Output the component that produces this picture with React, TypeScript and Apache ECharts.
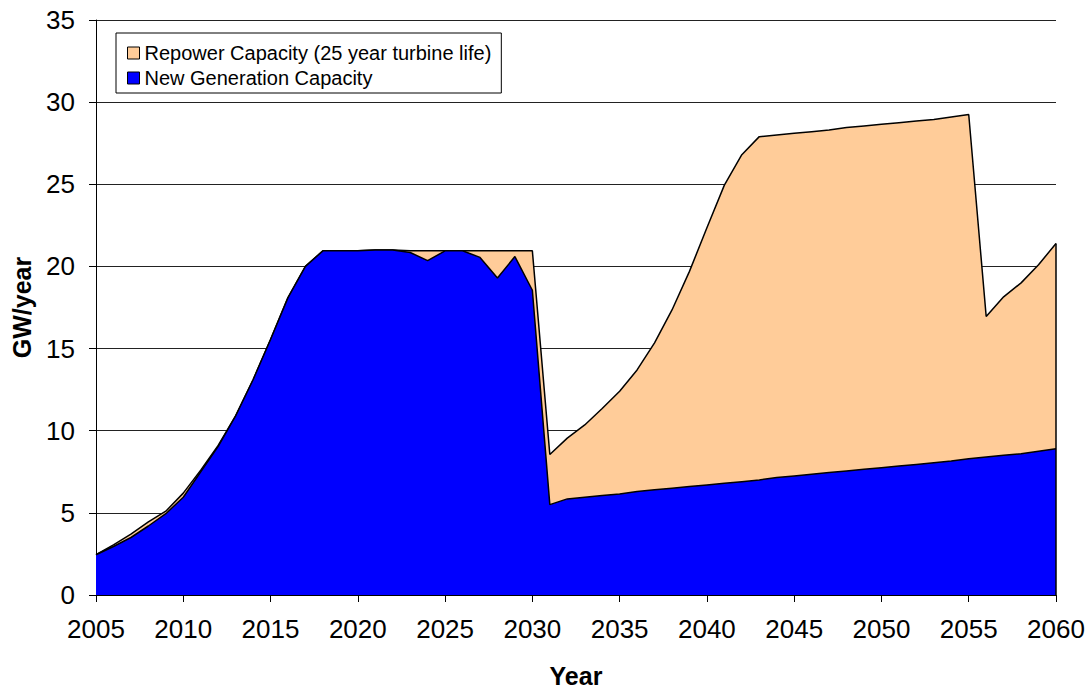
import React, { useEffect, useRef } from "react";
import * as echarts from "echarts";

const years = [
  2005, 2006, 2007, 2008, 2009, 2010, 2011, 2012, 2013, 2014,
  2015, 2016, 2017, 2018, 2019, 2020, 2021, 2022, 2023, 2024,
  2025, 2026, 2027, 2028, 2029, 2030, 2031, 2032, 2033, 2034,
  2035, 2036, 2037, 2038, 2039, 2040, 2041, 2042, 2043, 2044,
  2045, 2046, 2047, 2048, 2049, 2050, 2051, 2052, 2053, 2054,
  2055, 2056, 2057, 2058, 2059, 2060,
];

// New generation capacity (GW/year)
const newGeneration = [
  2.45, 2.95, 3.5, 4.2, 4.95, 5.95, 7.5, 9.05, 10.9, 13.1,
  15.55, 18.1, 20.0, 20.95, 20.95, 20.95, 21.0, 21.0, 20.85, 20.35,
  20.95, 20.95, 20.55, 19.3, 20.6, 18.55, 5.5, 5.85, 5.95, 6.05,
  6.15, 6.3, 6.4, 6.5, 6.6, 6.7, 6.8, 6.9, 7.0, 7.15,
  7.25, 7.35, 7.45, 7.55, 7.65, 7.75, 7.85, 7.95, 8.05, 8.15,
  8.3, 8.4, 8.5, 8.6, 8.75, 8.9,
];

// Total (new generation + repower) capacity (GW/year), top of the peach area
const totalWithRepower = [
  2.45, 3.05, 3.7, 4.45, 5.1, 6.2, 7.6, 9.1, 10.9, 13.1,
  15.55, 18.1, 20.0, 20.95, 20.95, 20.95, 21.0, 21.0, 20.95, 20.95,
  20.95, 20.95, 20.95, 20.95, 20.95, 20.95, 8.55, 9.55, 10.35, 11.35,
  12.4, 13.7, 15.35, 17.35, 19.7, 22.35, 24.95, 26.8, 27.9, 28.0,
  28.1, 28.2, 28.3, 28.45, 28.55, 28.65, 28.75, 28.85, 28.95, 29.1,
  29.25, 16.95, 18.15, 19.0, 20.1, 21.4,
];

const seriesNames = [
  "Repower Capacity (25 year turbine life)",
  "New Generation Capacity",
];

const FONT = "'Liberation Sans', Arial, sans-serif";

export default function App() {
  const ref = useRef<HTMLDivElement>(null);

  useEffect(() => {
    if (!ref.current) return;
    const chart = echarts.init(ref.current, null, { renderer: "svg" });
    const lastYear = years[years.length - 1];
    const lastTotal = totalWithRepower[totalWithRepower.length - 1];

    chart.setOption({
      animation: false,
      backgroundColor: "#ffffff",
      textStyle: { fontFamily: FONT, color: "#000" },
      grid: {
        left: 96,
        right: 34,
        top: 20,
        bottom: 93,
        containLabel: false,
        outerBoundsMode: "none",
      },
      legend: {
        orient: "vertical",
        left: 116,
        top: 33,
        data: seriesNames,
        icon: "rect",
        itemWidth: 12,
        itemHeight: 12,
        itemGap: 5,
        padding: [10, 10, 5, 11],
        backgroundColor: "#fff",
        borderColor: "#000",
        borderWidth: 1,
        borderRadius: 0,
        itemStyle: { borderColor: "#000", borderWidth: 1 },
        textStyle: { fontFamily: FONT, fontSize: 20, color: "#000", lineHeight: 20 },
      },
      xAxis: {
        type: "value",
        min: 2005,
        max: 2060,
        interval: 5,
        name: "Year",
        nameLocation: "middle",
        nameGap: 68,
        nameTextStyle: { fontFamily: FONT, fontSize: 25, fontWeight: "bold", color: "#000" },
        axisLine: { show: true, onZero: false, lineStyle: { color: "#000", width: 1 } },
        axisTick: { show: true, inside: false, length: 7, lineStyle: { color: "#000" } },
        axisLabel: {
          fontFamily: FONT,
          fontSize: 26,
          color: "#000",
          margin: 21,
          formatter: (v: number) => String(v),
        },
        splitLine: { show: false },
      },
      yAxis: {
        type: "value",
        min: 0,
        max: 35,
        interval: 5,
        name: "GW/year",
        nameLocation: "middle",
        nameGap: 62,
        nameRotate: 90,
        nameTextStyle: { fontFamily: FONT, fontSize: 25, fontWeight: "bold", color: "#000" },
        axisLine: { show: true, lineStyle: { color: "#000", width: 1 } },
        axisTick: { show: true, inside: false, length: 7, lineStyle: { color: "#000" } },
        axisLabel: { fontFamily: FONT, fontSize: 26, color: "#000", margin: 21 },
        splitLine: { show: true, lineStyle: { color: "#222", width: 1 } },
      },
      series: [
        {
          name: seriesNames[0],
          type: "line",
          data: years.map((y, i) => [y, totalWithRepower[i]]),
          showSymbol: false,
          symbol: "none",
          itemStyle: { color: "#FFCC99" },
          lineStyle: { color: "#000", width: 1.5 },
          areaStyle: { color: "#FFCC99", opacity: 1 },
          z: 2,
        },
        {
          name: seriesNames[1],
          type: "line",
          data: years.map((y, i) => [y, newGeneration[i]]),
          showSymbol: false,
          symbol: "none",
          itemStyle: { color: "#0000FF" },
          lineStyle: { color: "#000", width: 1.5 },
          areaStyle: { color: "#0000FF", opacity: 1 },
          z: 3,
          markLine: {
            silent: true,
            symbol: "none",
            label: { show: false },
            lineStyle: { color: "#000", width: 1.5, type: "solid" },
            data: [[{ coord: [lastYear, 0] }, { coord: [lastYear, lastTotal] }]],
          },
        },
      ],
    });

    return () => chart.dispose();
  }, []);

  return (
    <div
      ref={ref}
      style={{ position: "fixed", left: 0, top: 0, width: 1090, height: 688 }}
    />
  );
}
